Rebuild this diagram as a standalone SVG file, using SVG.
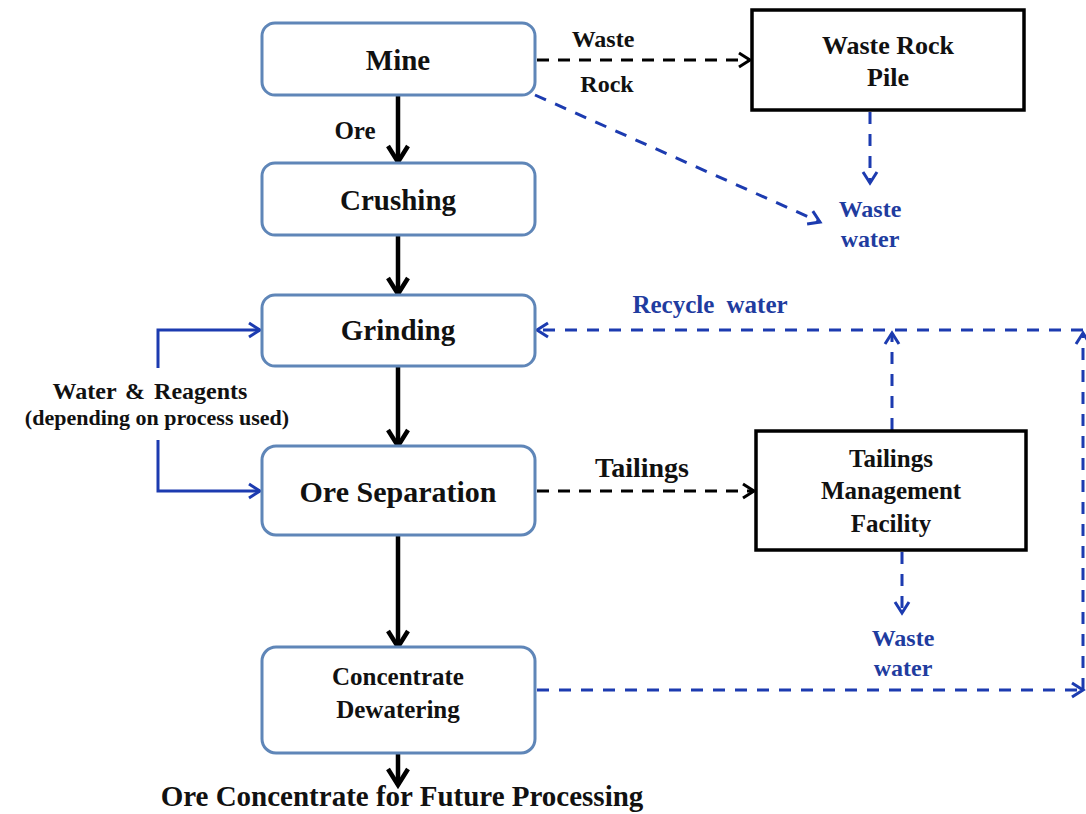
<svg xmlns="http://www.w3.org/2000/svg" width="1086" height="814" viewBox="0 0 1086 814">
  <style>
    text { font-family: "Liberation Serif", "Times New Roman", serif; font-weight: bold; text-anchor: middle; fill: #111; }
    .blue { fill: #1f3c9f; }
    .step { fill: #fff; stroke: #5f86b8; stroke-width: 3; }
    .store { fill: #fff; stroke: #000; stroke-width: 3.5; }
    .flow { fill: none; stroke: #000; stroke-width: 4.5; }
    .dash { fill: none; stroke: #000; stroke-width: 3; stroke-dasharray: 12 9; }
    .bdash { fill: none; stroke: #1c3bb0; stroke-width: 3; stroke-dasharray: 12 10; }
    .bsolid { fill: none; stroke: #1c3bb0; stroke-width: 3; }
  </style>
  <defs>
    <marker id="headBlack" markerUnits="userSpaceOnUse" markerWidth="26" markerHeight="26" viewBox="0 0 26 26" refX="22" refY="13" orient="auto">
      <path d="M6,3 L22,13 L6,23" fill="none" stroke="#000" stroke-width="4.5"/>
    </marker>
    <marker id="headDash" markerUnits="userSpaceOnUse" markerWidth="20" markerHeight="20" viewBox="0 0 20 20" refX="17" refY="10" orient="auto">
      <path d="M6,3 L17,10 L6,17" fill="none" stroke="#000" stroke-width="3"/>
    </marker>
    <marker id="headBlue" markerUnits="userSpaceOnUse" markerWidth="20" markerHeight="20" viewBox="0 0 20 20" refX="17" refY="10" orient="auto">
      <path d="M6,3 L17,10 L6,17" fill="none" stroke="#1c3bb0" stroke-width="3"/>
    </marker>
  </defs>

  <rect width="1086" height="814" fill="#fff"/>

  <!-- connectors -->
  <g id="connectors">
    <path class="flow" d="M398,95 V162" marker-end="url(#headBlack)"/>
    <path class="flow" d="M398,235 V294" marker-end="url(#headBlack)"/>
    <path class="flow" d="M398,366 V446" marker-end="url(#headBlack)"/>
    <path class="flow" d="M398,535 V647" marker-end="url(#headBlack)"/>
    <path class="flow" d="M398,753 V785" marker-end="url(#headBlack)"/>

    <path class="dash" d="M537,60 H750" marker-end="url(#headDash)"/>
    <path class="dash" d="M537,491 H754" marker-end="url(#headDash)"/>

    <path class="bdash" d="M535,95 L820,222" marker-end="url(#headBlue)"/>
    <path class="bdash" d="M870,112 V183" marker-end="url(#headBlue)"/>
    <path class="bdash" d="M902,552 V613" marker-end="url(#headBlue)"/>

    <path class="bdash" d="M1083,330 H537" marker-end="url(#headBlue)"/>
    <path class="bdash" d="M892,430 V333" marker-end="url(#headBlue)"/>
    <path class="bdash" d="M1083,690 V333" marker-end="url(#headBlue)"/>
    <path class="bdash" d="M537,690 H1083" marker-end="url(#headBlue)"/>

    <path class="bsolid" d="M158,368 V330 H260" marker-end="url(#headBlue)"/>
    <path class="bsolid" d="M158,440 V491 H260" marker-end="url(#headBlue)"/>
  </g>

  <!-- process steps -->
  <g id="mine">
    <rect class="step" x="262" y="23" width="273" height="72" rx="13"/>
    <text x="398" y="70" font-size="29">Mine</text>
  </g>
  <g id="crushing">
    <rect class="step" x="262" y="163" width="273" height="72" rx="13"/>
    <text x="398" y="210" font-size="29">Crushing</text>
  </g>
  <g id="grinding">
    <rect class="step" x="262" y="295" width="273" height="71" rx="13"/>
    <text x="398" y="340" font-size="29">Grinding</text>
  </g>
  <g id="ore-separation">
    <rect class="step" x="262" y="446" width="273" height="89" rx="14"/>
    <text x="398" y="502" font-size="30">Ore Separation</text>
  </g>
  <g id="concentrate-dewatering">
    <rect class="step" x="262" y="647" width="273" height="106" rx="14"/>
    <text x="398" y="685" font-size="25">Concentrate</text>
    <text x="398" y="718" font-size="25">Dewatering</text>
  </g>

  <!-- storage facilities -->
  <g id="waste-rock-pile">
    <rect class="store" x="752" y="10" width="272" height="100"/>
    <text x="888" y="54" font-size="26">Waste Rock</text>
    <text x="888" y="86" font-size="26">Pile</text>
  </g>
  <g id="tailings-facility">
    <rect class="store" x="756" y="431" width="270" height="119"/>
    <text x="891" y="467" font-size="25">Tailings</text>
    <text x="891" y="499" font-size="25">Management</text>
    <text x="891" y="532" font-size="25">Facility</text>
  </g>

  <!-- flow labels -->
  <g id="labels">
    <text x="603" y="47" font-size="24">Waste</text>
    <text x="607" y="92" font-size="24">Rock</text>
    <text x="355" y="139" font-size="25">Ore</text>
    <text x="642" y="477" font-size="28">Tailings</text>
    <text class="blue" x="870" y="217" font-size="24">Waste</text>
    <text class="blue" x="870" y="247" font-size="24">water</text>
    <text class="blue" x="903" y="646" font-size="24">Waste</text>
    <text class="blue" x="903" y="676" font-size="24">water</text>
    <text class="blue" x="710" y="313" font-size="25" word-spacing="6">Recycle water</text>
    <text x="150" y="399" font-size="24" word-spacing="3">Water &amp; Reagents</text>
    <text x="157" y="425" font-size="22">(depending on process used)</text>
    <text x="402" y="806" font-size="29">Ore Concentrate for Future Processing</text>
  </g>
</svg>
